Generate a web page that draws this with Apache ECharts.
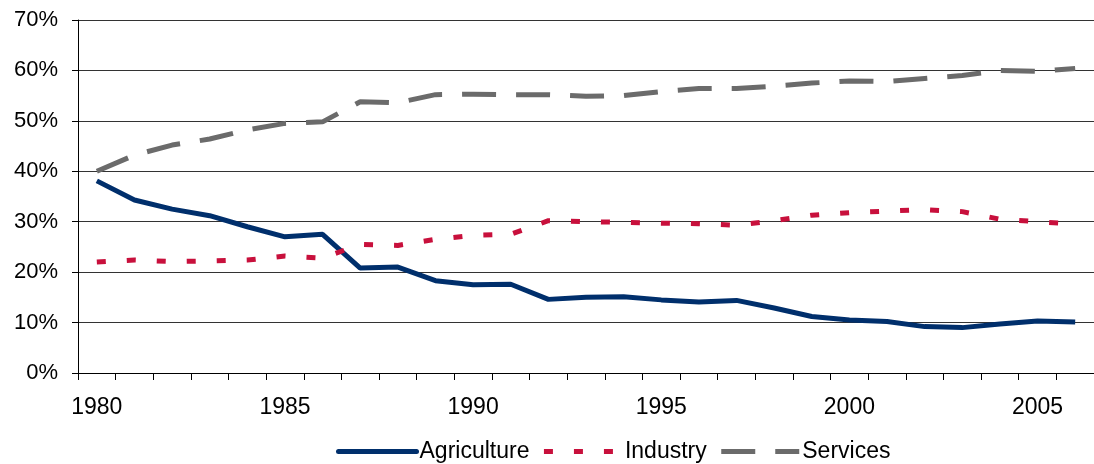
<!DOCTYPE html>
<html>
<head>
<meta charset="utf-8">
<script src="https://cdn.jsdelivr.net/npm/echarts@6/dist/echarts.min.js"></script>
<style>
  html, body { margin: 0; padding: 0; background: #fff; }
  #main { width: 1094px; height: 464px; }
</style>
</head>
<body>
<div id="main"></div>
<script>
var years = ['1980', '1981', '1982', '1983', '1984', '1985', '1986', '1987', '1988', '1989',
    '1990', '1991', '1992', '1993', '1994', '1995', '1996', '1997', '1998', '1999',
    '2000', '2001', '2002', '2003', '2004', '2005', '2006'];

var agriculture = [38.1, 34.3, 32.5, 31.2, 29.0, 27.0, 27.5, 20.8, 21.0, 18.3,
    17.5, 17.6, 14.6, 15.0, 15.1, 14.5, 14.1, 14.4, 12.9, 11.2,
    10.5, 10.2, 9.2, 9.0, 9.7, 10.3, 10.1];

var industry = [22.0, 22.4, 22.1, 22.2, 22.4, 23.2, 22.8, 25.5, 25.3, 26.5,
    27.3, 27.5, 30.2, 30.0, 29.9, 29.7, 29.6, 29.3, 30.2, 31.3,
    31.8, 32.1, 32.4, 32.0, 30.5, 30.0, 29.5];

var services = [40.0, 43.2, 45.2, 46.4, 48.2, 49.5, 49.8, 53.8, 53.6, 55.2,
    55.3, 55.2, 55.2, 54.9, 55.0, 55.8, 56.4, 56.4, 56.9, 57.5,
    57.9, 57.8, 58.4, 59.0, 60.0, 59.8, 60.4];

var chartDom = document.getElementById('main');
var myChart = echarts.init(chartDom);
var font = 'Liberation Sans, Arial, sans-serif';

var option = {
    animation: false,
    textStyle: { fontFamily: font },
    grid: {
        left: 78,
        right: 0,
        top: 20,
        bottom: 91
    },
    legend: {
        top: 435,
        left: 331,
        itemWidth: 78,
        itemHeight: 4,
        itemGap: 12,
        itemStyle: { opacity: 0 },
        lineStyle: { width: 5 },
        textStyle: { fontSize: 23, color: '#000', fontFamily: font, padding: [0, 0, 0, -2] },
        data: [
            { name: 'Agriculture', lineStyle: { width: 5, cap: 'round' } },
            { name: 'Industry' },
            { name: 'Services' }
        ]
    },
    xAxis: {
        type: 'category',
        data: years,
        boundaryGap: true,
        axisLine: { lineStyle: { color: '#000', width: 1 } },
        axisTick: { show: true, interval: 0, length: 7, lineStyle: { color: '#000' } },
        axisLabel: { interval: 4, fontSize: 23, color: '#000', margin: 23 },
        splitLine: { show: false }
    },
    yAxis: {
        type: 'value',
        min: 0,
        max: 70,
        interval: 10,
        axisLine: { show: true, lineStyle: { color: '#000', width: 1 } },
        axisTick: { show: true, length: 6, lineStyle: { color: '#000' } },
        axisLabel: { fontSize: 22, color: '#000', margin: 20, formatter: '{value}%' },
        splitLine: { show: true, lineStyle: { color: '#333', width: 1 } }
    },
    series: [
        {
            name: 'Agriculture',
            type: 'line',
            data: agriculture,
            symbol: 'none',
            lineStyle: { color: '#002f6c', width: 5 },
            itemStyle: { color: '#002f6c' }
        },
        {
            name: 'Industry',
            type: 'line',
            data: industry,
            symbol: 'none',
            lineStyle: { color: '#c8103c', width: 5, type: [9, 21] },
            itemStyle: { color: '#c8103c' }
        },
        {
            name: 'Services',
            type: 'line',
            data: services,
            symbol: 'none',
            lineStyle: { color: '#6b6b6b', width: 5, type: [34, 20] },
            itemStyle: { color: '#6b6b6b' }
        }
    ]
};

option && myChart.setOption(option);
</script>
</body>
</html>
